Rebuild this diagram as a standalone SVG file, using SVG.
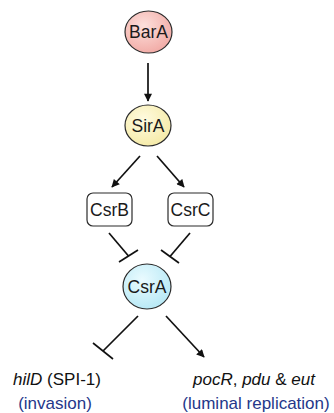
<svg xmlns="http://www.w3.org/2000/svg" width="334" height="413" viewBox="0 0 334 413">
  <style>
    .node { stroke: #2b2b2b; stroke-width: 1.2; }
    .label { font-family: "Liberation Sans", Arial, sans-serif; font-size: 17.5px; fill: #1a1a1a; text-anchor: middle; }
    .gene { font-family: "Liberation Sans", Arial, sans-serif; font-size: 17px; fill: #111; text-anchor: middle; }
    .role { font-family: "Liberation Sans", Arial, sans-serif; font-size: 17px; fill: #24378a; text-anchor: middle; }
    .edge { stroke: #111; stroke-width: 1.7; fill: none; }
  </style>
  <defs>
    <radialGradient id="gBarA" cx="40%" cy="35%" r="70%">
      <stop offset="0" stop-color="#fde0dc"/>
      <stop offset="1" stop-color="#f1a9a4"/>
    </radialGradient>
    <radialGradient id="gSirA" cx="40%" cy="35%" r="70%">
      <stop offset="0" stop-color="#fffbe0"/>
      <stop offset="1" stop-color="#f5eaa6"/>
    </radialGradient>
    <radialGradient id="gCsrA" cx="40%" cy="35%" r="70%">
      <stop offset="0" stop-color="#eafbff"/>
      <stop offset="1" stop-color="#b6e8f5"/>
    </radialGradient>
    <marker id="arrow" viewBox="0 0 10 10" refX="9" refY="5" markerWidth="9" markerHeight="8" markerUnits="userSpaceOnUse" orient="auto">
      <path d="M0,0 L10,5 L0,10 z" fill="#111"/>
    </marker>
  </defs>

  <!-- connectors -->
  <g id="connectors">
    <line class="edge" x1="148" y1="63" x2="148" y2="101" marker-end="url(#arrow)"/>
    <line class="edge" x1="140" y1="156" x2="112" y2="187" marker-end="url(#arrow)"/>
    <line class="edge" x1="157" y1="156" x2="184" y2="187" marker-end="url(#arrow)"/>
    <!-- CsrB -| CsrA -->
    <line class="edge" x1="109" y1="233" x2="128.5" y2="256"/>
    <line class="edge" x1="119" y1="262" x2="138" y2="250"/>
    <!-- CsrC -| CsrA -->
    <line class="edge" x1="190" y1="233" x2="170" y2="256.5"/>
    <line class="edge" x1="161" y1="250" x2="179" y2="263"/>
    <!-- CsrA -| hilD -->
    <line class="edge" x1="138" y1="316" x2="103" y2="351"/>
    <line class="edge" x1="93" y1="343" x2="113" y2="359"/>
    <!-- CsrA -> pocR, pdu, eut -->
    <line class="edge" x1="166" y1="316" x2="204" y2="357" marker-end="url(#arrow)"/>
  </g>

  <g id="BarA">
    <ellipse class="node" cx="148.5" cy="32" rx="23.5" ry="21" fill="url(#gBarA)"/>
    <text class="label" x="148.5" y="38">BarA</text>
  </g>
  <g id="SirA">
    <ellipse class="node" cx="148" cy="125.5" rx="23" ry="20.5" fill="url(#gSirA)"/>
    <text class="label" x="148" y="131.5">SirA</text>
  </g>
  <g id="CsrB">
    <rect class="node" x="87" y="193" width="45" height="33" rx="6" fill="#fff"/>
    <text class="label" x="109.5" y="215.5">CsrB</text>
  </g>
  <g id="CsrC">
    <rect class="node" x="168" y="193" width="45" height="33" rx="6" fill="#fff"/>
    <text class="label" x="190.5" y="215.5">CsrC</text>
  </g>
  <g id="CsrA">
    <ellipse class="node" cx="147" cy="286.5" rx="24" ry="22.5" fill="url(#gCsrA)"/>
    <text class="label" x="147" y="292.5">CsrA</text>
  </g>
  <g id="hilD">
    <text class="gene" x="57" y="385"><tspan font-style="italic">hilD</tspan> (SPI-1)</text>
    <text class="role" x="55" y="409">(invasion)</text>
  </g>
  <g id="pocR-pdu-eut">
    <text class="gene" x="254" y="385"><tspan font-style="italic">pocR</tspan>, <tspan font-style="italic">pdu</tspan> &amp; <tspan font-style="italic">eut</tspan></text>
    <text class="role" x="256" y="409">(luminal replication)</text>
  </g>
</svg>
